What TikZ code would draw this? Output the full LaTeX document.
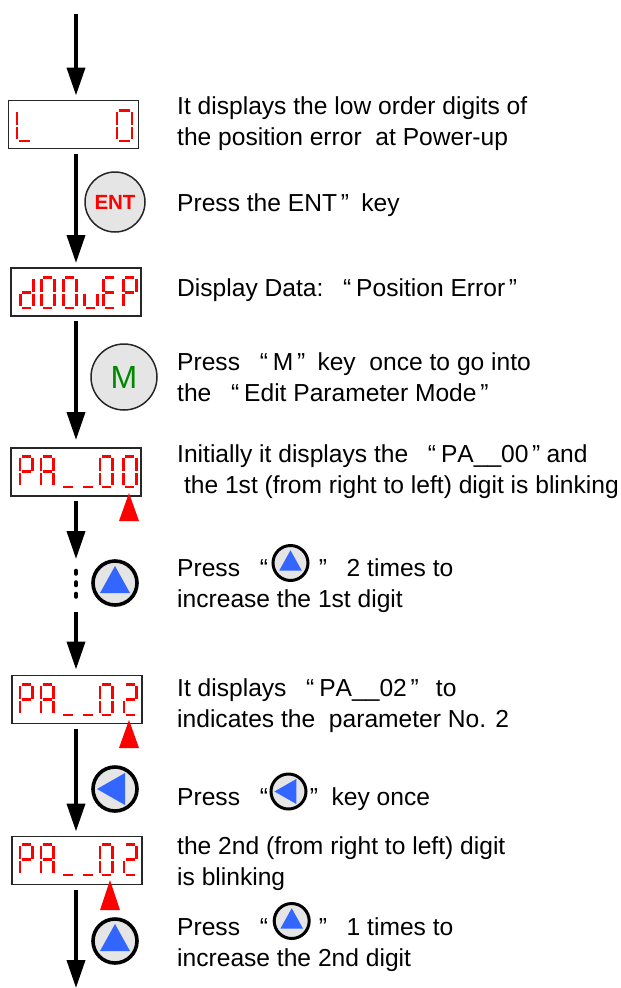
\documentclass[tikz,border=0pt]{standalone}
\usepackage{fontspec}
\setmainfont[Kerning=Off]{Liberation Sans}
\usetikzlibrary{arrows.meta, positioning}
\colorlet{colorKey}{black!10}
\definecolor{colorTri}{RGB}{51,102,255}
\definecolor{colorLed}{RGB}{255,0,0}
\definecolor{colorM}{RGB}{0,136,0}
\tikzset{
  disp/.style={draw=black!85, line width=1.3pt, minimum width=130pt, minimum height=48pt, inner sep=0pt, outer sep=0pt},
  seg/.style={colorLed, line width=2.8pt},
  flow/.style={-{Triangle[width=18pt,length=28pt]}, line width=3.8pt, black, shorten >=5pt, shorten <=5pt},
  cursor/.style={fill=colorLed, draw=none},
  keythin/.style={circle, draw=black!85, fill=colorKey, line width=1.5pt, minimum size=60pt, inner sep=0pt, outer sep=0pt},
  keythick/.style={circle, draw=black, fill=colorKey, line width=3.6pt, minimum size=44pt, inner sep=0pt, outer sep=0pt},
  keysmall/.style={keythick, line width=3pt, minimum size=35pt},
  note/.style={anchor=base west, align=left, inner sep=0pt, font=\fontsize{24.6pt}{30.5pt}\selectfont}
}
\def\segA{(2,0)--(13,0) }
\def\segB{(15,2)--(15,16) }
\def\segC{(15,18)--(15,32) }
\def\segD{(2,34)--(13,34) }
\def\segE{(0,18)--(0,32) }
\def\segF{(0,2)--(0,16) }
\def\segG{(2,17)--(13,17) }
\def\digO{\segA\segB\segC\segD\segE\segF}
\def\digL{\segF\segE\segD}
\def\digd{\segB\segC\segD\segE\segG}
\def\digu{\segC\segD\segE}
\def\digE{\segA\segF\segG\segE\segD}
\def\digP{\segA\segB\segF\segG\segE}
\def\digH{\segA\segB\segC\segE\segF\segG}
\def\digT{\segA\segB\segG\segE\segD}
\newcommand{\segchar}[4][.85]{\draw[seg, shift={(#2,#3)}, xscale=#1, yscale=.9] #4;}
\newcommand{\triup}[2][1]{\fill[colorTri, shift={(#2.center)}, scale=#1] (0,-17) -- (15,10) -- (-15,10) -- cycle;}
\newcommand{\trileft}[2][1]{\fill[colorTri, shift={(#2.center)}, scale=#1] (-18,0) -- (10,-16) -- (10,16) -- cycle;}
\newcommand{\oq}{\hspace{.8em}“\hspace{.2em}}
\newcommand{\cq}[1][.25em]{\hspace{.15em}”\hspace{#1}}
\begin{document}
\begin{tikzpicture}[x=1pt, y=-1pt]
\useasboundingbox (0,0) rectangle (621,988);
% axis of the arrows
\coordinate (spine) at (76,0);
\coordinate (top) at (76,9);
\coordinate (bottom) at (76,993);
\coordinate (gap1) at (76,564);
\coordinate (gap2) at (76,607);
\coordinate (dotsA) at (76,571);
\coordinate (dotsB) at (76,600);
% displays
\node[disp] (d1) at (73.5,124.5) {};
\node[disp] (d2) at (76,292) {};
\node[disp] (d3) at (76,472) {};
\node[disp] (d4) at (77,699.5) {};
\node[disp] (d5) at (77,860.5) {};
\segchar[1]{17}{110.4}{\digL}
\segchar[1]{117}{110.4}{\digO}
\segchar{20.4}{277.4}{\digd}
\segchar{41.4}{277.4}{\digO}
\segchar{63.4}{277.4}{\digO}
\segchar{84.4}{277.4}{\digu}
\segchar{103.4}{277.4}{\digE}
\segchar{123.4}{277.4}{\digP}
\foreach \py in {456.4,684.4,844.4} {
  \segchar{20}{\py}{\digP}
  \segchar{41}{\py}{\digH}
  \segchar{61.5}{\py}{\segD}
  \segchar{81.5}{\py}{\segD}
  \segchar{100}{\py}{\digO}
}
\segchar{123.4}{456.4}{\digO}
\segchar{124}{684.4}{\digT}
\segchar{124}{844.4}{\digT}
% arrows
\draw[flow] (top) -- (d1.north -| spine);
\draw[flow] (d1.south -| spine) -- (d2.north -| spine);
\draw[flow, shorten >=8pt] (d2.south -| spine) -- (d3.north -| spine);
\draw[flow] (d3.south -| spine) -- (gap1);
\draw[line width=4.6pt, line cap=round, dash pattern=on 2.5pt off 9pt] (dotsA) -- (dotsB);
\draw[flow, shorten >=6pt] (gap2) -- (d4.north -| spine);
\draw[flow] (d4.south -| spine) -- (d5.north -| spine);
\draw[flow] (d5.south -| spine) -- (bottom);
% blink marks
\coordinate (m3) at (129,493);
\coordinate (m4) at (129,720);
\coordinate (m5) at (110,880);
\fill[cursor] (m3) -- ++(10,28) -- ++(-20,0) -- cycle;
\fill[cursor] (m4) -- ++(10,28) -- ++(-20,0) -- cycle;
\fill[cursor] (m5) -- ++(10,30) -- ++(-20,0) -- cycle;
% keys
\node[keythin] (kEnt) at (115,202) {\fontsize{20.5pt}{22pt}\selectfont\bfseries\textcolor{colorLed}{ENT}};
\node[keythin, minimum size=66pt] (kM) at (124,377) {\fontsize{32pt}{34pt}\selectfont\textcolor{colorM}{M}};
\node[keythick] (kUpA) at (115,583) {};
\node[keythick] (kLeft) at (115,789) {};
\node[keythick] (kUpB) at (115,941) {};
\triup{kUpA}
\trileft{kLeft}
\triup{kUpB}
% texts
\node[note] (n1) at (177,145) {It displays the low order digits of\\the position error\ \ at Power-up};
\node[note] (n2) at (177,211) {Press the ENT\cq[.5em]key};
\node[note] (n3) at (177,296) {Display Data:\oq Position Error\cq};
\node[note] (n4) at (177,401) {Press\oq M\cq[.5em]key\ \ once to go into\\the\oq Edit Parameter Mode\cq};
\node[note] (n5) at (177,493) {Initially it displays the\oq PA\_\_00\cq and\\\ the 1st (from right to left) digit is blinking};
\node[note] (n6) at (177,607) {Press\oq\hspace{46pt}”\hspace{.8em}2 times to\\increase the 1st digit};
\node[note] (n7) at (177,727) {It displays\oq PA\_\_02\cq[.7em]to\\indicates the\ \ parameter No. 2};
\node[note] (n8) at (177,805) {Press\oq\hspace{37pt}”\hspace{.55em}key once};
\node[note] (n9) at (177,885) {the 2nd (from right to left) digit\\is blinking};
\node[note] (n10) at (177,966) {Press\oq\hspace{46pt}”\hspace{.8em}1 times to\\increase the 2nd digit};
% keys inside the texts
\node[keysmall] (kTextA) at (290.5,563) {};
\node[keysmall] (kTextB) at (288.5,791.5) {};
\node[keysmall] (kTextC) at (291.7,921) {};
\triup[0.75]{kTextA}
\trileft[0.78]{kTextB}
\triup[0.75]{kTextC}
\end{tikzpicture}
\end{document}
